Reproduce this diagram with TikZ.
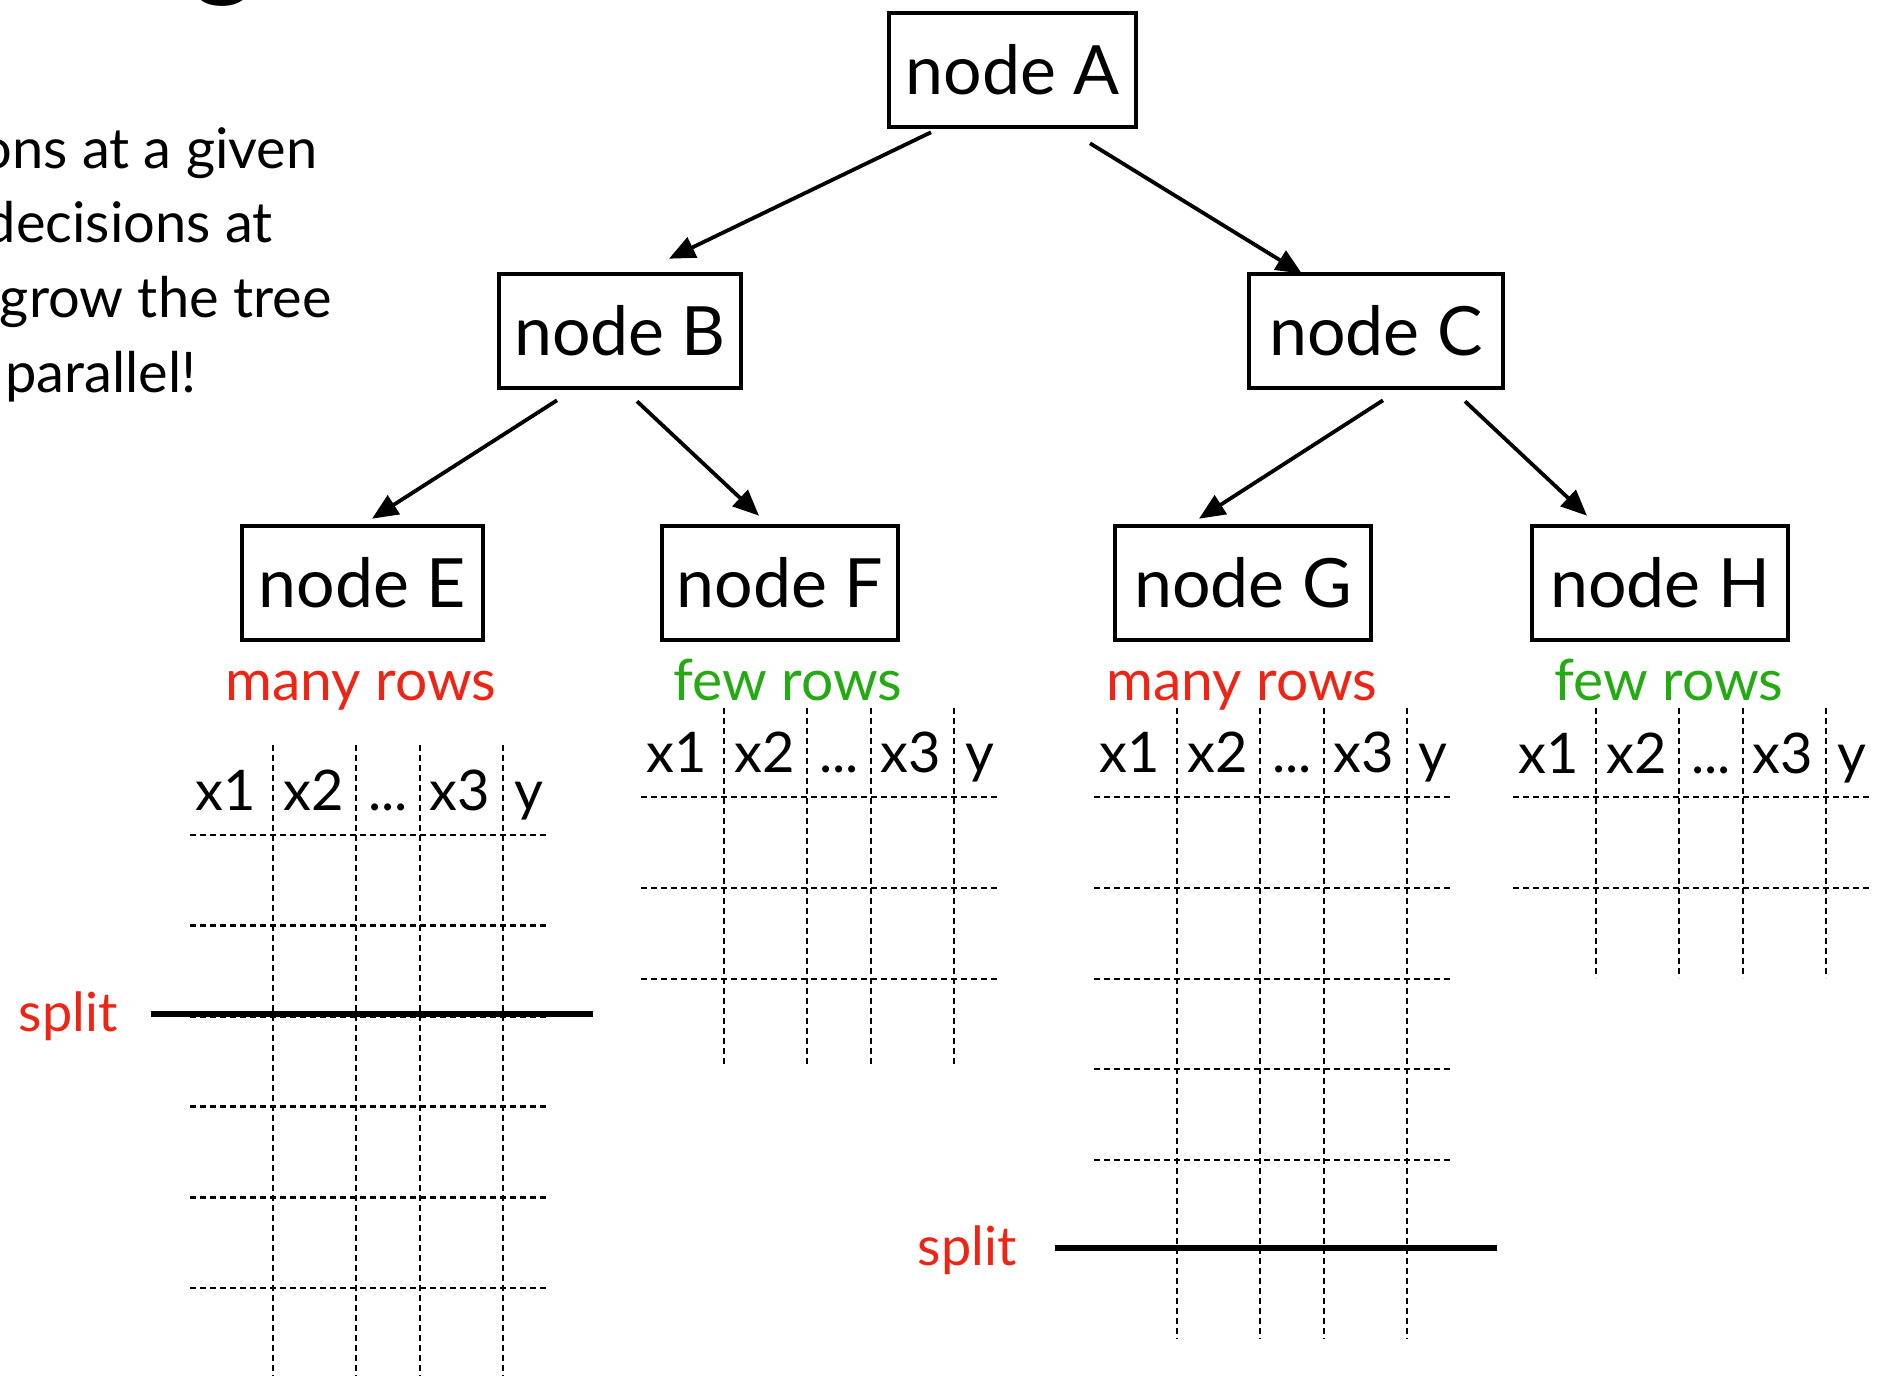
\documentclass[tikz,border=0pt]{standalone}
\usepackage{fontspec}
\setmainfont{Lato}
\usetikzlibrary{arrows.meta,calc}
\definecolor{redlbl}{RGB}{238,36,20}
\definecolor{greenlbl}{RGB}{36,170,18}
\tikzset{
 treenode/.style={draw, line width=2.3pt, minimum height=57pt, inner xsep=2pt, font=\fontsize{34}{40}\selectfont},
 edge/.style={line width=1.9pt, -{Triangle[length=13pt,width=11pt]}},
 gridline/.style={line width=1.45pt, dash pattern=on 3pt off 2pt},
 splitline/.style={line width=2.6pt},
 hdr/.style={anchor=base, inner sep=0pt, font=\fontsize{28}{34}\selectfont},
 rowlbl/.style={anchor=base, inner sep=0pt, font=\fontsize{28.5}{34}\selectfont},
 splitlbl/.style={anchor=base east, inner sep=0pt, text=redlbl, font=\fontsize{27}{32}\selectfont},
 sidetext/.style={anchor=base east, inner sep=0pt, font=\fontsize{28}{34}\selectfont},
}
% #1 left x, #2 top of verticals, #3 header baseline, #4 bottom of verticals, #5 horizontal rules, #6 name prefix
\newcommand{\datatable}[6]{%
  \foreach \dx in {83,166,230,313} \draw[gridline] (#1+\dx,#2) -- (#1+\dx,#4);
  \foreach \hy in {#5} \draw[gridline] (#1,\hy) -- (#1+358,\hy);
  \node[hdr] (#6h1) at (#1+36,#3) {x1};
  \node[hdr] (#6h2) at (#1+124,#3) {x2};
  \node[hdr] (#6h3) at (#1+198,#3) {...};
  \node[hdr] (#6h4) at (#1+270,#3) {x3};
  \node[hdr] (#6h5) at (#1+339,#3) {y};
}
\begin{document}
\begin{tikzpicture}[x=0.5pt,y=-0.5pt]
\useasboundingbox (0,0) rectangle (1891,1376);

% cut-off title fragment and side text
\node[font=\fontsize{60}{70}\selectfont, anchor=base, inner sep=0pt] (titleg) at (224,-15) {g};
\node[sidetext] (t1) at (318,168) {ons at a given};
\node[sidetext] (t2) at (273,242) {decisions at};
\node[sidetext] (t3) at (332,317) {grow the tree};
\node[sidetext] (t4) at (197,392) {parallel!};

% tree nodes
\node[treenode, minimum width=123.5pt] (A) at (1012.5,70) {node A};
\node[treenode, minimum width=121pt] (B) at (620,331) {node B};
\node[treenode, minimum width=127pt] (C) at (1376,331) {node C};
\node[treenode, minimum width=120.5pt] (E) at (362.5,583) {node E};
\node[treenode, minimum width=118pt] (F) at (780,583) {node F};
\node[treenode, minimum width=128pt] (G) at (1243,583) {node G};
\node[treenode, minimum width=128pt] (H) at (1660,583) {node H};

% edges
\draw[edge] ($(A.south)+(-81.5,3)$) -- ($(B.north)+(49,-13)$);
\draw[edge] ($(A.south)+(77.5,14)$) -- ($(C.north)+(-74,2)$);
\draw[edge] ($(B.south)+(-63,10)$) -- ($(E.north)+(9.5,-5)$);
\draw[edge] ($(B.south)+(17,11)$) -- ($(F.north)+(-21,-8)$);
\draw[edge] ($(C.south)+(7,10)$) -- ($(G.north)+(-44,-5)$);
\draw[edge] ($(C.south)+(89,11)$) -- ($(H.north)+(-73,-8)$);

% row-count labels
\node[rowlbl, text=redlbl] (lE) at (361,700) {many rows};
\node[rowlbl, text=greenlbl] (lF) at (788,700) {few rows};
\node[rowlbl, text=redlbl] (lG) at (1242,700) {many rows};
\node[rowlbl, text=greenlbl] (lH) at (1669,700) {few rows};

% tables
\datatable{190}{745}{810}{1380}{835,925.6,1016.2,1106.8,1197.4,1288}{E}
\datatable{641}{708}{772}{1065}{797,888,979}{F}
\datatable{1094}{708}{772}{1339}{797,888,979,1069,1160,1250}{G}
\datatable{1513}{708}{773}{978}{797,888}{H}

% splits
\node[splitlbl] (sE) at (118,1031) {split};
\coordinate (sEa) at (151,1014);
\coordinate (sEb) at (593,1014);
\draw[splitline] (sEa) -- (sEb);
\node[splitlbl] (sG) at (1017,1265) {split};
\coordinate (sGa) at (1055,1248);
\coordinate (sGb) at (1497,1248);
\draw[splitline] (sGa) -- (sGb);
\end{tikzpicture}
\end{document}
